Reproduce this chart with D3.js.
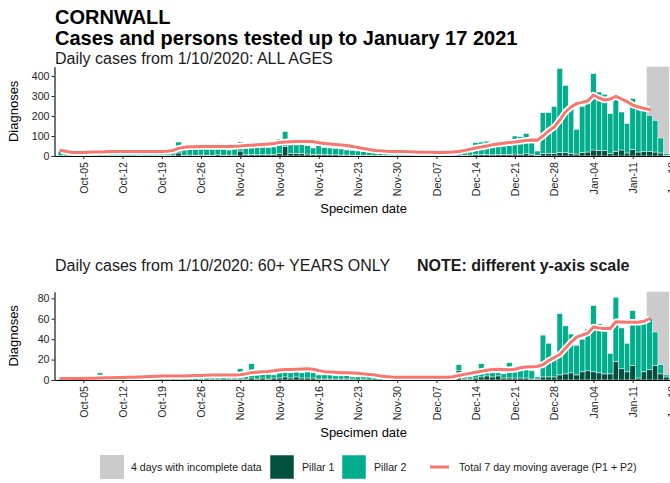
<!DOCTYPE html>
<html><head><meta charset="utf-8">
<script src="https://cdn.jsdelivr.net/npm/d3@7"></script>
<style>
body{margin:0;background:#fff}
svg{display:block}
text{font-family:"Liberation Sans",Arial,Helvetica,sans-serif}
</style>
</head><body>
<svg id="chart" width="670" height="483"></svg>
<script>
// ---------- DATA ----------
const startDate = "2020-10-01";
const endDate = "2021-01-17";
const incompleteStart = "2021-01-14";

const tickDates = ["2020-10-05","2020-10-12","2020-10-19","2020-10-26","2020-11-02","2020-11-09","2020-11-16",
  "2020-11-23","2020-11-30","2020-12-07","2020-12-14","2020-12-21","2020-12-28","2021-01-04","2021-01-11","2021-01-18"];
const tickLabels = ["Oct-05","Oct-12","Oct-19","Oct-26","Nov-02","Nov-09","Nov-16",
  "Nov-23","Nov-30","Dec-07","Dec-14","Dec-21","Dec-28","Jan-04","Jan-11","Jan-18"];

// ALL AGES (daily, from 1 Oct 2020)
const allPillar1 = [2,1,1,2,1,2,2,1,2,3, 2,2,1,2,3,2,2,3,2,3,
  5,15,4,5,4,5,4,3,6,4, 5,5,25,6,8,6,8,7,8,12,
  48,14,12,13,10,8,9,7,6,6, 5,5,4,4,3,3,2,3,3,4,
  3,3,2,3,3,2,3,3,3,4, 4,5,4,5,8,7,8,6,7,8,
  8,10,9,11,8,4,12,14,13,18, 16,14,10,18,20,30,28,27,12,24,
  30,15,33,20,22,22,20,15,3];
const allPillar2 = [22,17,9,10,14,18,14,13,16,19, 18,17,14,16,21,18,20,22,18,22,
  38,55,31,33,33,35,34,32,57,34, 25,30,45,34,59,39,59,35,37,73,
  75,41,43,43,42,32,43,35,34,32, 30,25,24,21,19,17,16,12,14,14,
  17,14,14,15,16,13,15,13,14,15, 18,15,20,23,59,63,66,39,40,42,
  44,90,88,102,72,21,205,203,235,419, 337,223,123,230,250,382,292,281,200,279,
  190,147,254,217,206,181,158,75,9];
const allMovingAvg = [27,22,18,17,18,19,20,20,21,22, 22,22,22,22,22,22,22,23,23,24,
  28,38,44,46,46,47,47,47,48,48, 48,49,50,52,54,56,58,60,63,67,
  70,71,72,72,73,72,66,62,60,58, 55,52,48,42,37,32,28,26,24,23,
  22,22,21,20,19,19,19,18,18,19, 20,23,28,34,40,45,50,56,60,64,
  68,70,74,78,80,79,100,125,145,180, 220,245,262,268,275,305,290,280,285,298,
  285,272,255,245,238,233];

// 60+ YEARS ONLY
const oldPillar1 = [0,0,0,0,0,0,1,0,0,0, 0,0,0,1,0,0,0,1,0,0,
  0,1,0,1,0,1,0,1,1,0, 1,1,1,1,2,1,2,1,2,2,
  3,2,3,2,2,2,1,1,1,1, 1,1,1,0,1,0,0,0,1,0,
  1,0,0,0,0,1,0,0,1,0, 1,9,1,1,2,3,4,3,4,2,
  2,2,2,2,1,1,3,3,3,5, 6,7,5,8,9,8,7,6,6,18,
  11,8,14,2,8,10,14,6,3];
const oldPillar2 = [1,1,0,1,1,1,1,7,1,1, 2,1,1,1,1,2,1,1,2,1,
  2,2,3,2,2,6,3,2,3,3, 3,3,10,4,14,4,4,5,3,5,
  5,5,5,5,6,5,4,4,4,3, 3,4,2,3,2,3,2,2,1,3,
  5,2,2,1,2,1,1,2,1,2, 2,6,2,2,8,13,7,4,3,4,
  15,7,7,13,8,2,41,33,20,60, 47,38,29,32,41,65,48,42,20,63,
  40,28,54,53,47,50,33,9,2];
const oldMovingAvg = [1.5,1.5,1.5,1.5,1.5,1.7,1.8,2.0,2.2,2.3, 2.4,2.5,2.6,2.8,3.0,3.2,3.4,3.6,3.8,4.0,
  4.0,4.0,4.0,4.2,4.4,4.5,4.6,4.8,5.0,5.0, 5.0,5.0,5.2,6.0,7.2,7.6,8.0,8.4,9.0,9.8,
  10.2,10.4,10.6,10.8,11.0,10.5,9.2,8.2,7.8,7.5, 7.2,7.0,6.8,6.5,6.0,5.5,4.8,4.0,3.4,3.0,
  2.8,2.7,2.6,2.6,2.6,2.6,2.6,2.6,2.7,2.8, 3.2,4.5,5.5,6.5,7.5,8.5,9.5,10.2,10.5,10.3,
  10.0,10.5,12.0,12.8,13.0,13.2,15,19,22,25, 31,37,42,44,46,52,51,50.5,50.5,57,
  56.8,56.5,56.5,56.5,57.5,60];

const allYTicks = [0,100,200,300,400];
const oldYTicks = [0,20,40,60,80];

const legendLabels = ["4 days with incomplete data","Pillar 1","Pillar 2","Total 7 day moving average (P1 + P2)"];

// ---------- STYLE ----------
const C_GRAY = "#cbcbcb", C_P1 = "#04503f", C_P2 = "#00ad8c", C_LINE = "#f8766d";
const TICKCOL = "#262626";

const parse = d3.utcParse("%Y-%m-%d");
const DAY = 864e5;
const days = d3.utcDay.range(parse(startDate), d3.utcDay.offset(parse(endDate), 1));

const svg = d3.select("#chart");

const x = d3.scaleUtc()
  .domain([new Date(+parse(startDate) - 1.14*DAY), new Date(+parse(endDate) + 1.14*DAY)])
  .range([54.5, 672.7]);
const bw = x(new Date(+parse(startDate) + DAY)) - x(parse(startDate));

// Titles
svg.append("text").attr("x",55).attr("y",23.5).attr("font-size",20).attr("font-weight","bold").attr("fill","#000").text("CORNWALL");
svg.append("text").attr("x",55).attr("y",44.5).attr("font-size",20).attr("font-weight","bold").attr("fill","#000").text("Cases and persons tested up to January 17 2021");

function panel(opts){
  const y = d3.scaleLinear().domain([0, opts.yMax]).range([opts.base, opts.top]);
  const g = svg.append("g");
  g.append("text").attr("x",55).attr("y",opts.subY).attr("font-size",16).attr("fill","#1a1a1a").text(opts.subtitle);
  if (opts.note) {
    g.append("text").attr("x",417).attr("y",opts.subY).attr("font-size",16).attr("font-weight","bold").attr("fill","#1a1a1a").text(opts.note);
  }
  // incomplete region
  g.append("rect")
    .attr("x", x(new Date(+parse(incompleteStart) - 0.5*DAY)))
    .attr("y", opts.top)
    .attr("width", x(new Date(+parse(endDate) + 0.5*DAY)) - x(new Date(+parse(incompleteStart) - 0.5*DAY)))
    .attr("height", opts.base - opts.top)
    .attr("fill", C_GRAY);
  // bars
  const rows = days.map((d,i)=>({d, p1: opts.p1[i], p2: opts.p2[i]}));
  const bars = g.append("g");
  bars.selectAll("rect.p1").data(rows).join("rect")
    .attr("class","p1")
    .attr("x", r=>x(r.d)-bw/2).attr("width", bw)
    .attr("y", r=>y(r.p1)).attr("height", r=>y(0)-y(r.p1))
    .attr("fill", C_P1).attr("stroke","#fff").attr("stroke-width",0.5);
  bars.selectAll("rect.p2").data(rows).join("rect")
    .attr("class","p2")
    .attr("x", r=>x(r.d)-bw/2).attr("width", bw)
    .attr("y", r=>y(r.p1+r.p2)).attr("height", r=>y(r.p1)-y(r.p1+r.p2))
    .attr("fill", C_P2).attr("stroke","#fff").attr("stroke-width",0.5);
  // moving average
  const line = d3.line().x((v,i)=>x(days[i])).y(v=>y(v));
  g.append("path").attr("d", line(opts.ma)).attr("fill","none").attr("stroke","#fff").attr("stroke-width",6.5).attr("stroke-linejoin","round");
  g.append("path").attr("d", line(opts.ma)).attr("fill","none").attr("stroke",C_LINE).attr("stroke-width",3).attr("stroke-linejoin","round").attr("stroke-linecap","round");
  // axes
  const ya = g.append("g").attr("transform",`translate(${x.range()[0]},0)`)
    .call(d3.axisLeft(y).tickValues(opts.ticks).tickSize(3).tickPadding(2).tickSizeOuter(0));
  ya.select(".domain").attr("stroke","#000").attr("stroke-width",1.1);
  ya.selectAll(".tick line").attr("stroke","#222");
  ya.selectAll(".tick text").attr("font-size",10.6).attr("fill",TICKCOL).attr("font-family","Liberation Sans, Arial, sans-serif");
  const xa = g.append("g").attr("transform",`translate(0,${opts.base})`)
    .call(d3.axisBottom(x).tickValues(tickDates.map(parse)).tickFormat((d,i)=>tickLabels[i]).tickSize(3).tickSizeOuter(0));
  xa.select(".domain").attr("stroke","#000").attr("stroke-width",1.1);
  xa.selectAll(".tick line").attr("stroke","#222");
  xa.selectAll(".tick text")
    .attr("font-size",10.6).attr("fill",TICKCOL).attr("font-family","Liberation Sans, Arial, sans-serif")
    .attr("transform","rotate(-90)").attr("text-anchor","end")
    .attr("x",-6).attr("y",0).attr("dy","0.35em");
  // axis titles
  g.append("text").attr("transform",`translate(18,${(opts.top+opts.base)/2}) rotate(-90)`)
    .attr("text-anchor","middle").attr("font-size",13).attr("fill","#000").text("Diagnoses");
  g.append("text").attr("x",(x.range()[0]+x.range()[1])/2).attr("y",opts.base+57)
    .attr("text-anchor","middle").attr("font-size",13).attr("fill","#000").text("Specimen date");
}

panel({top:66.7, base:156, yMax:446.5, subY:64, subtitle:"Daily cases from 1/10/2020: ALL AGES",
  p1:allPillar1, p2:allPillar2, ma:allMovingAvg, ticks:allYTicks});
panel({top:291.7, base:380, yMax:86.5, subY:271, subtitle:"Daily cases from 1/10/2020: 60+ YEARS ONLY",
  note:"NOTE: different y-axis scale",
  p1:oldPillar1, p2:oldPillar2, ma:oldMovingAvg, ticks:oldYTicks});

// Legend
const lg = svg.append("g");
const ly = 455, ks = 24;
lg.append("rect").attr("x",100).attr("y",ly).attr("width",ks).attr("height",ks).attr("fill",C_GRAY);
lg.append("text").attr("x",131).attr("y",ly+ks/2).attr("dy","0.35em").attr("font-size",10.6).attr("fill","#1a1a1a").text(legendLabels[0]);
lg.append("rect").attr("x",270).attr("y",ly).attr("width",ks).attr("height",ks).attr("fill",C_P1).attr("stroke","#fff").attr("stroke-width",0.5);
lg.append("text").attr("x",302).attr("y",ly+ks/2).attr("dy","0.35em").attr("font-size",10.6).attr("fill","#1a1a1a").text(legendLabels[1]);
lg.append("rect").attr("x",342).attr("y",ly).attr("width",ks).attr("height",ks).attr("fill",C_P2).attr("stroke","#fff").attr("stroke-width",0.5);
lg.append("text").attr("x",374).attr("y",ly+ks/2).attr("dy","0.35em").attr("font-size",10.6).attr("fill","#1a1a1a").text(legendLabels[2]);
lg.append("line").attr("x1",430).attr("x2",449).attr("y1",ly+ks/2).attr("y2",ly+ks/2).attr("stroke",C_LINE).attr("stroke-width",3);
lg.append("text").attr("x",459).attr("y",ly+ks/2).attr("dy","0.35em").attr("font-size",10.6).attr("fill","#1a1a1a").text(legendLabels[3]);
</script>
</body></html>
